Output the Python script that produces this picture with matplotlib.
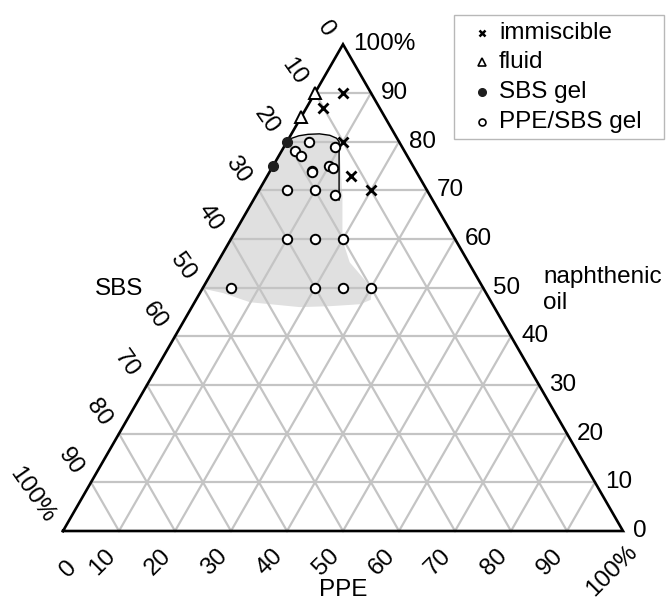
import numpy as np
import matplotlib
matplotlib.use("Agg")
import matplotlib.pyplot as plt
from matplotlib.patches import Polygon, Rectangle

plt.rcParams['font.family'] = ['Liberation Sans', 'DejaVu Sans']

# compositions in % : oil (top), PPE (bottom right); SBS = 100 - oil - PPE
immisc_oil = [90, 87, 80, 73, 70]
immisc_ppe = [5, 3, 10, 15, 20]

fluid_oil = [90, 85]
fluid_ppe = [0, 0]

sbs_gel_oil = [80, 75]
sbs_gel_ppe = [0, 0]

gel_oil = [80, 79, 78, 77, 74, 73.8, 75, 74.6, 70, 70, 69, 60, 60, 60, 50, 50, 50, 50]
gel_ppe = [4, 9, 2.5, 4, 7.5, 7.6, 10, 11, 5, 10, 14, 10, 15, 20, 5, 20, 25, 30]

# boundary line of the gel region
curve_oil = [80.3, 81.2, 81.5, 81.6, 81.3, 80.7, 80.0, 68.0]
curve_ppe = [-0.3, 1.5, 3, 5, 7, 8.5, 9.3, 15.3]

# grey shaded area
shade_oil = [49.7, 80.5, 81.2, 81.5, 81.6, 81.3, 80.7, 80.0, 68.6, 59.8, 55.2,
             51.5, 49.5, 47.5, 46.6, 46.2, 46.0, 47.0, 48.9, 49.7]
shade_ppe = [0, 0, 1.5, 3, 5, 7, 8.5, 9.3, 15.6, 20.0, 23.6,
             28.2, 30.4, 31.2, 29.8, 24.7, 19.3, 9.9, 4.1, 0.5]

ticks = list(range(0, 101, 10))
tick_labels = [str(t) for t in ticks[:-1]] + ['100%']

H = np.sqrt(3) / 2


def to_xy(oil, ppe):
    oil = np.asarray(oil, float) / 100
    ppe = np.asarray(ppe, float) / 100
    return ppe + oil / 2, oil * H


fig = plt.figure(figsize=(6.66, 6.01), dpi=100)
ax = fig.add_axes([0, 0, 1, 1])
sx, sy = 560.0, 562.0
ax.set_xlim(-63 / sx, (666 - 63) / sx)
ax.set_ylim(-(601 - 531) / sy, 531 / sy)
ax.axis('off')

# shaded gel region
xs, ys = to_xy(shade_oil, shade_ppe)
ax.add_patch(Polygon(np.column_stack([xs, ys]), closed=True,
                     facecolor='#e0e0e0', edgecolor='none', zorder=1))

# grid
gcol = '#c4c4c4'
for t in ticks[1:-1]:
    # constant oil (horizontal)
    x, y = to_xy([t, t], [0, 100 - t])
    ax.plot(x, y, color=gcol, lw=1.6, zorder=2)
    # constant PPE
    x, y = to_xy([0, 100 - t], [t, t])
    ax.plot(x, y, color=gcol, lw=1.6, zorder=2)
    # constant SBS
    x, y = to_xy([0, 100 - t], [100 - t, 0])
    ax.plot(x, y, color=gcol, lw=1.6, zorder=2)

# triangle outline
x, y = to_xy([0, 0, 100, 0], [0, 100, 0, 0])
ax.plot(x, y, color='black', lw=1.9, zorder=3, solid_joinstyle='miter')

# boundary curve
x, y = to_xy(curve_oil, curve_ppe)
ax.plot(x, y, color='black', lw=1.0, zorder=3)

# data
x, y = to_xy(immisc_oil, immisc_ppe)
ax.plot(x, y, 'x', color='black', ms=6.5, mew=2, zorder=5, ls='none')
x, y = to_xy(fluid_oil, fluid_ppe)
ax.plot(x, y, '^', mfc='white', mec='black', ms=8, mew=1.4, zorder=5, ls='none')
x, y = to_xy(sbs_gel_oil, sbs_gel_ppe)
ax.plot(x, y, 'o', mfc='#1e1e1e', mec='#1e1e1e', ms=7, zorder=5, ls='none')
x, y = to_xy(gel_oil, gel_ppe)
ax.plot(x, y, 'o', mfc='white', mec='black', ms=6.8, mew=1.4, zorder=5, ls='none')

fs = 17.5
# right axis: naphthenic oil
for t, lab in zip(ticks, tick_labels):
    x, y = to_xy([t], [100 - t])
    ax.annotate(lab, xy=(x[0], y[0]), xytext=(10, 0), textcoords='offset pixels',
                ha='left', va='center', fontsize=fs)

# left axis: SBS (0 at top)
for t, lab in zip(ticks, tick_labels):
    x, y = to_xy([100 - t], [0])
    ax.annotate(lab, xy=(x[0], y[0]), xytext=(-13, 10), textcoords='offset pixels',
                ha='right', va='center', rotation=-55, rotation_mode='anchor',
                fontsize=fs)

# bottom axis: PPE
for t, lab in zip(ticks, tick_labels):
    x, y = to_xy([0], [t])
    if t == 0:
        off = (6, -38)
    elif t == 100:
        off = (-11, -40)
    else:
        off = (-17, -31)
    ax.annotate(lab, xy=(x[0], y[0]), xytext=off, textcoords='offset pixels',
                ha='center', va='center', rotation=45, rotation_mode='anchor',
                fontsize=fs)

# axis titles
fig.text(119 / 666, 1 - 289 / 601, 'SBS', ha='center', va='center', fontsize=fs)
fig.text(543 / 666, 1 - 277 / 601, 'naphthenic', ha='left', va='center', fontsize=fs)
fig.text(543 / 666, 1 - 303 / 601, 'oil', ha='left', va='center', fontsize=fs)
fig.text(343 / 666, 1 - 590 / 601, 'PPE', ha='center', va='center', fontsize=fs)

# legend
ax.add_patch(Rectangle((454 / 666, 1 - 139 / 601), 210 / 666, 124 / 601,
                       transform=fig.transFigure, facecolor='white',
                       edgecolor='#b8b8b8', lw=1.0, zorder=5, clip_on=False))
leg_labels = ['immiscible', 'fluid', 'SBS gel', 'PPE/SBS gel']
leg_rows = [33, 62, 92, 122]
leg_styles = [dict(marker='x', color='black', ms=4.5, mew=1.8),
              dict(marker='^', mfc='white', mec='black', ms=5.5, mew=1.2),
              dict(marker='o', mfc='#1e1e1e', mec='#1e1e1e', ms=5.5),
              dict(marker='o', mfc='white', mec='black', ms=5, mew=1.2)]
for lab, row, st in zip(leg_labels, leg_rows, leg_styles):
    fy = 1 - row / 601
    ax.plot([482 / 666], [fy], transform=fig.transFigure, clip_on=False,
            ls='none', zorder=6, **st)
    ax.text(499 / 666, fy, lab, transform=fig.transFigure, ha='left',
            va='center', fontsize=fs, zorder=6)

fig.savefig('out.png', dpi=100)
